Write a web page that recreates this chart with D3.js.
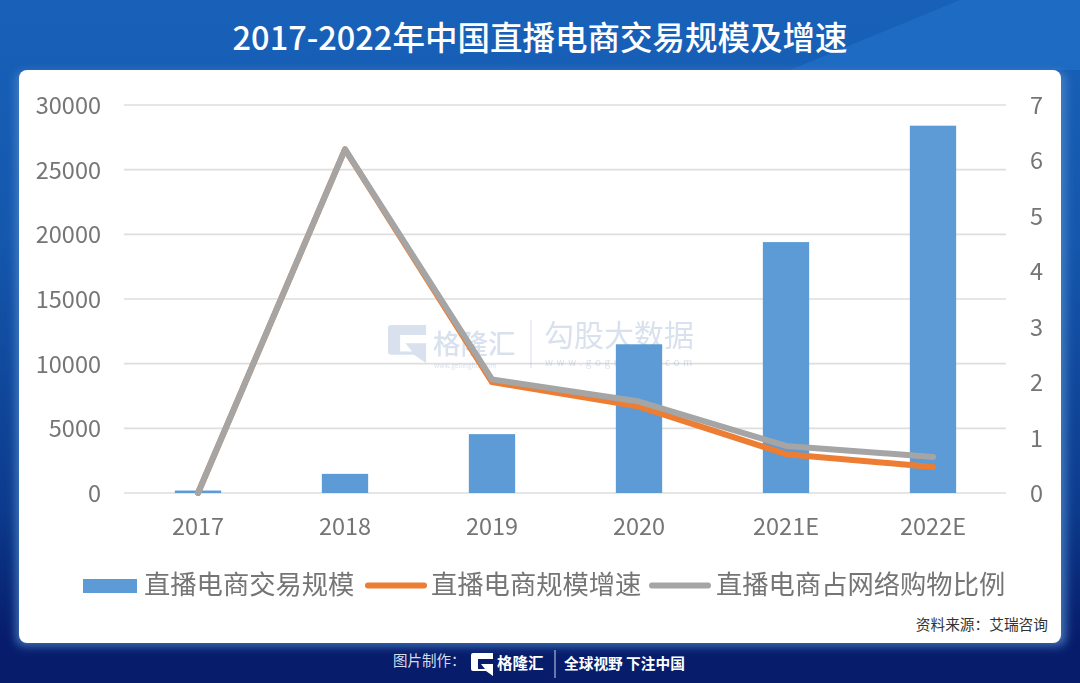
<!DOCTYPE html>
<html>
<head>
<meta charset="utf-8">
<script src="https://cdn.jsdelivr.net/npm/d3@7/dist/d3.min.js"></script>
<style>
  html, body { margin: 0; padding: 0; background: #071d6c; }
  svg { display: block; font-family: "Noto Sans CJK SC", "Noto Sans", sans-serif; }
</style>
</head>
<body>
<svg id="chart"></svg>
<script>
// chart values
const years = ['2017', '2018', '2019', '2020', '2021E', '2022E'];
const scale = [190, 1480, 4550, 11500, 19400, 28400];
const growth = [0, 6.2, 2.0, 1.56, 0.7, 0.47];
const share = [0, 6.2, 2.05, 1.65, 0.85, 0.65];
const leftTicks = [0, 5000, 10000, 15000, 20000, 25000, 30000];
const rightTicks = [0, 1, 2, 3, 4, 5, 6, 7];

const width = 1080, height = 683;
const margin = { top: 105, right: 74, bottom: 190, left: 124 };

const svg = d3.select('#chart').attr('width', width).attr('height', height);
const defs = svg.append('defs');

const bg = defs.append('linearGradient').attr('id', 'bg')
  .attr('x1', 0).attr('y1', 0).attr('x2', 0).attr('y2', 1);
bg.append('stop').attr('offset', '0%').attr('stop-color', '#1861b9');
bg.append('stop').attr('offset', '35%').attr('stop-color', '#1457ad');
bg.append('stop').attr('offset', '75%').attr('stop-color', '#0c3a8c');
bg.append('stop').attr('offset', '93%').attr('stop-color', '#071d6c');

defs.append('filter').attr('id', 'glow')
  .attr('x', '-5%').attr('y', '-5%').attr('width', '110%').attr('height', '110%')
  .append('feGaussianBlur').attr('stdDeviation', 5);

// soft edge, the reference is a slightly blurry screenshot
defs.append('filter').attr('id', 'soft')
  .append('feGaussianBlur').attr('stdDeviation', 0.5);

// background
svg.append('rect').attr('width', width).attr('height', height).attr('fill', 'url(#bg)');
svg.append('path').attr('d', 'M790,70 L960,0 L1080,0 L1080,70 Z').attr('fill', '#2273ca').attr('opacity', 0.6);

// title
svg.append('text')
  .attr('x', 540).attr('y', 50)
  .attr('text-anchor', 'middle')
  .attr('fill', '#fff')
  .attr('font-size', 32.5)
  .attr('font-weight', 500)
  .text('2017-2022年中国直播电商交易规模及增速');

// white card
svg.append('rect')
  .attr('x', 16).attr('y', 72).attr('width', 1050).attr('height', 574).attr('rx', 8)
  .attr('fill', '#4f86c9').attr('opacity', 0.8).attr('filter', 'url(#glow)');
svg.append('rect')
  .attr('x', 19).attr('y', 70).attr('width', 1042).attr('height', 573).attr('rx', 8)
  .attr('fill', '#fff');

const x = d3.scaleBand().domain(years)
  .range([margin.left + 0.5, width - margin.right + 0.5])
  .paddingInner(0.685).paddingOuter(0.3425);
const yLeft = d3.scaleLinear().domain([0, 30000]).range([height - margin.bottom, margin.top]);
const yRight = d3.scaleLinear().domain([0, 7]).range([height - margin.bottom, margin.top]);

const plot = svg.append('g').attr('filter', 'url(#soft)');

// gridlines
plot.append('g').selectAll('line')
  .data(leftTicks)
  .join('line')
  .attr('x1', margin.left).attr('x2', width - margin.right)
  .attr('y1', d => yLeft(d)).attr('y2', d => yLeft(d))
  .attr('stroke', '#dedede').attr('stroke-width', 1.6);

// G logo, used by the watermark and the footer
const logoPath = 'M2,0 H22 V6 H7 V16 H14 L10,11 H22 V23 L15,18 H2 Q0,18 0,16 V2 Q0,0 2,0 Z';

// watermark sits under the bars
const wm = plot.append('g').attr('opacity', 0.3);
wm.append('path').attr('d', logoPath)
  .attr('transform', 'translate(388,325) scale(1.73,1.65)')
  .attr('fill', '#7f9cc4');
wm.append('text').attr('x', 433).attr('y', 354).attr('font-size', 27.5).attr('font-weight', 500).attr('fill', '#7f9cc4').text('格隆汇');
wm.append('text').attr('x', 434).attr('y', 368).attr('font-size', 6.5).attr('fill', '#7f9cc4').text('www.gelonghui.com');
wm.append('line').attr('x1', 531).attr('x2', 531).attr('y1', 320).attr('y2', 368).attr('stroke', '#7f9cc4');
wm.append('text').attr('x', 544).attr('y', 346).attr('font-size', 30).attr('fill', '#7f9cc4').text('勾股大数据');
wm.append('text').attr('x', 545).attr('y', 366).attr('font-size', 10).attr('letter-spacing', 3.6).attr('fill', '#7f9cc4').text('www.gogudata.com');

// bars
plot.append('g').selectAll('rect')
  .data(scale)
  .join('rect')
  .attr('x', (d, i) => x(years[i]))
  .attr('y', d => yLeft(d))
  .attr('width', x.bandwidth())
  .attr('height', d => yLeft(0) - yLeft(d))
  .attr('fill', '#5b9bd5');

// lines
const line = d3.line()
  .x((d, i) => x(years[i]) + x.bandwidth() / 2)
  .y(d => yRight(d));

plot.append('path').datum(growth)
  .attr('d', line).attr('fill', 'none')
  .attr('stroke', '#ed7d31').attr('stroke-width', 6).attr('stroke-linejoin', 'round').attr('stroke-linecap', 'round');
plot.append('path').datum(share)
  .attr('d', line).attr('fill', 'none')
  .attr('stroke', '#a5a5a5').attr('stroke-width', 6).attr('stroke-linejoin', 'round').attr('stroke-linecap', 'round');

// axes
const tickColor = '#757575';
const leftAxis = plot.append('g')
  .attr('transform', `translate(${margin.left},1)`)
  .call(d3.axisLeft(yLeft).tickValues(leftTicks).tickSize(0).tickPadding(23).tickFormat(d => String(d)));
const rightAxis = plot.append('g')
  .attr('transform', `translate(${width - margin.right},1)`)
  .call(d3.axisRight(yRight).tickValues(rightTicks).tickSize(0).tickPadding(24).tickFormat(d => String(d)));
const bottomAxis = plot.append('g')
  .attr('transform', `translate(0,${height - margin.bottom})`)
  .call(d3.axisBottom(x).tickSize(0).tickPadding(25));

[leftAxis, rightAxis, bottomAxis].forEach(a => {
  a.select('.domain').remove();
  a.selectAll('text').attr('fill', tickColor).attr('font-size', 23.5)
    .attr('font-family', '"Noto Sans CJK SC", "Noto Sans", sans-serif');
});

// legend
const legendItems = [
  { label: '直播电商交易规模', color: '#5b9bd5', type: 'bar', x: 83, textX: 144 },
  { label: '直播电商规模增速', color: '#ed7d31', type: 'line', x: 365, textX: 431 },
  { label: '直播电商占网络购物比例', color: '#a5a5a5', type: 'line', x: 649, textX: 716 }
];
const legend = plot.append('g');
legendItems.forEach(item => {
  if (item.type === 'bar') {
    legend.append('rect').attr('x', item.x).attr('y', 579).attr('width', 54).attr('height', 14).attr('fill', item.color);
  } else {
    legend.append('line').attr('x1', item.x + 3).attr('x2', item.x + 59).attr('y1', 585.5).attr('y2', 585.5)
      .attr('stroke', item.color).attr('stroke-width', 6).attr('stroke-linecap', 'round');
  }
  legend.append('text').attr('x', item.textX).attr('y', 594)
    .attr('font-size', 26.3).attr('fill', tickColor).text(item.label);
});

// source
svg.append('text').attr('x', 1048).attr('y', 630).attr('text-anchor', 'end')
  .attr('font-size', 14.7).attr('fill', '#333').text('资料来源：艾瑞咨询');

// footer
svg.append('text').attr('x', 393).attr('y', 666).attr('font-size', 14.5).attr('fill', '#d5dcec').text('图片制作：');
svg.append('path').attr('d', logoPath)
  .attr('transform', 'translate(471,653)')
  .attr('fill', '#fff');
svg.append('text').attr('x', 497).attr('y', 669).attr('font-size', 15.5).attr('font-weight', 700).attr('fill', '#fff').text('格隆汇');
svg.append('line').attr('x1', 555).attr('x2', 555).attr('y1', 650).attr('y2', 678).attr('stroke', '#c8d2e8');
svg.append('text').attr('x', 564).attr('y', 669).attr('font-size', 14.7).attr('font-weight', 700).attr('fill', '#fff').text('全球视野 下注中国');
</script>
</body>
</html>
